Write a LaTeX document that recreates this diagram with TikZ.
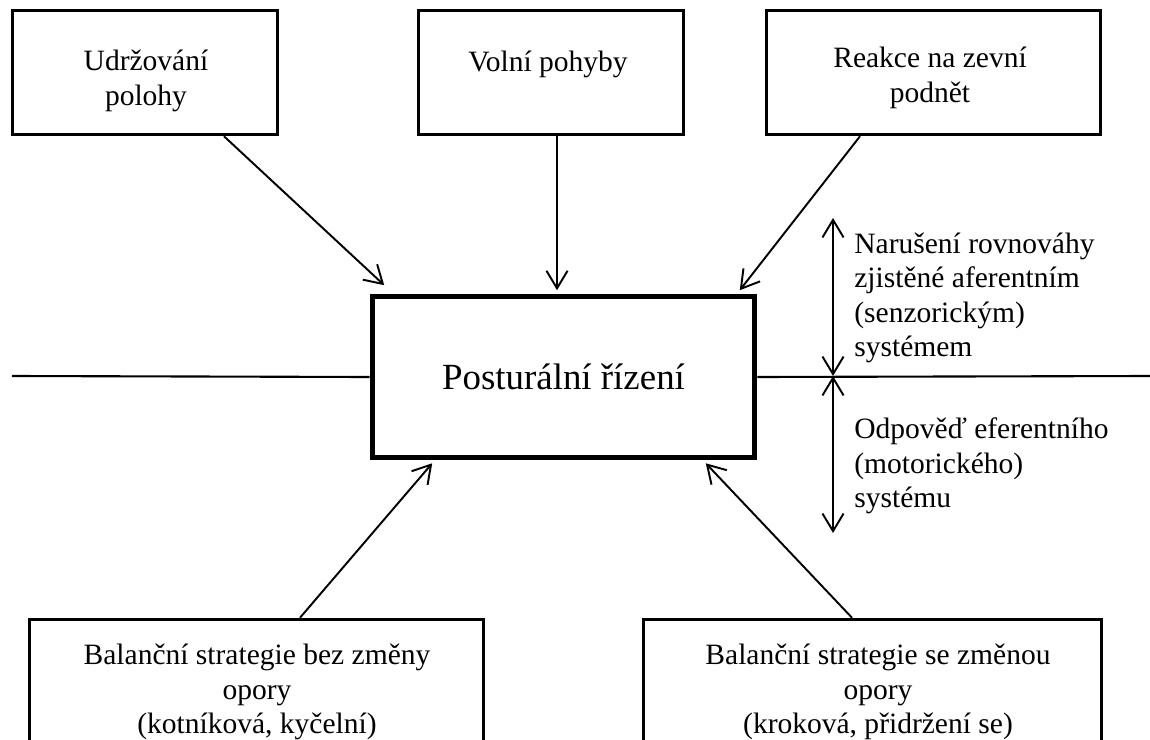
\documentclass[tikz,border=0pt]{standalone}
\usepackage{fontspec}
\setmainfont{Liberation Serif}
\usetikzlibrary{arrows.meta}

\tikzset{
  box/.style={draw, line width=2pt, inner sep=0pt, minimum height=2.48cm},
  lowbox/.style={draw, line width=2pt, inner sep=0pt, minimum height=3cm},
  lbl/.style={align=center, inner sep=0pt, font=\fontsize{16.8}{19.6}\selectfont},
  sidelbl/.style={lbl, align=left, anchor=west},
  pointer/.style={-{Straight Barb[length=10pt,width=12pt]}, line width=1.1pt},
  twoway/.style={{Straight Barb[length=10pt,width=12pt]}-{Straight Barb[length=10pt,width=12pt]}, line width=1.1pt},
}

\begin{document}
\begin{tikzpicture}[x=0.02cm, y=-0.02cm]
    \useasboundingbox (0,0) rectangle (1150,740);
    \clip (0,0) rectangle (1150,740);

    % central box and the dividing line
    \node [draw, line width=3.2pt, minimum width=7.64cm, minimum height=3.22cm,
           font=\fontsize{21}{25}\selectfont] (ctrl) at (563.5,377) {Posturální řízení};
    \coordinate (edgeL) at (12,376);
    \coordinate (edgeR) at (1150,376);
    \draw [line width=1.2pt] (edgeL) -- (ctrl.west);
    \draw [line width=1.2pt] (ctrl.east) -- (edgeR);

    % upper boxes
    \node [box, minimum width=5.3cm] (hold) at (145,72.5) {};
    \node [box, minimum width=5.3cm] (free) at (551,72.5) {};
    \node [box, minimum width=6.68cm] (react) at (933.5,72.5) {};
    \node [lbl] (holdtxt) at (146,81) {Udržování\\polohy};
    \node [lbl] (freetxt) at (548,64) {Volní pohyby};
    \node [lbl] (reacttxt) at (930,78) {Reakce na zevní\\podnět};

    % lower boxes
    \node [lowbox, minimum width=9.08cm] (fixed) at (256.5,694.5) {};
    \node [lowbox, minimum width=9.16cm] (step) at (872.5,694.5) {};
    \node [lbl] (fixedtxt) at (257,692) {Balanční strategie bez změny\\opory\\(kotníková, kyčelní)};
    \node [lbl] (steptxt) at (878,692) {Balanční strategie se změnou\\opory\\(kroková, přidržení se)};

    % arrows into the central box
    \draw [pointer] ([xshift=1.58cm]hold.south) -- ([xshift=0.29cm, yshift=0.17cm]ctrl.north west);
    \draw [pointer] ([xshift=0.12cm]free.south) -- ([xshift=-0.13cm, yshift=0.07cm]ctrl.north);
    \draw [pointer] ([xshift=-1.47cm]react.south) -- ([xshift=-0.35cm, yshift=0.07cm]ctrl.north east);
    \draw [pointer] ([xshift=0.87cm]fixed.north) -- ([xshift=1.25cm, yshift=-0.06cm]ctrl.south west);
    \draw [pointer] ([xshift=-0.41cm]step.north) -- ([xshift=-1.03cm, yshift=-0.06cm]ctrl.south east);

    % afferent / efferent side
    \coordinate (affTop) at (833,218);
    \coordinate (mid) at (833,376);
    \coordinate (effBot) at (833,533);
    \draw [twoway] (affTop) -- (mid);
    \draw [twoway] (mid) -- (effBot);
    \node [sidelbl] (afftxt) at (854,298) {Narušení rovnováhy\\zjistěné aferentním\\(senzorickým)\\systémem};
    \node [sidelbl] (efftxt) at (854,466) {Odpověď eferentního\\(motorického)\\systému};
\end{tikzpicture}
\end{document}
